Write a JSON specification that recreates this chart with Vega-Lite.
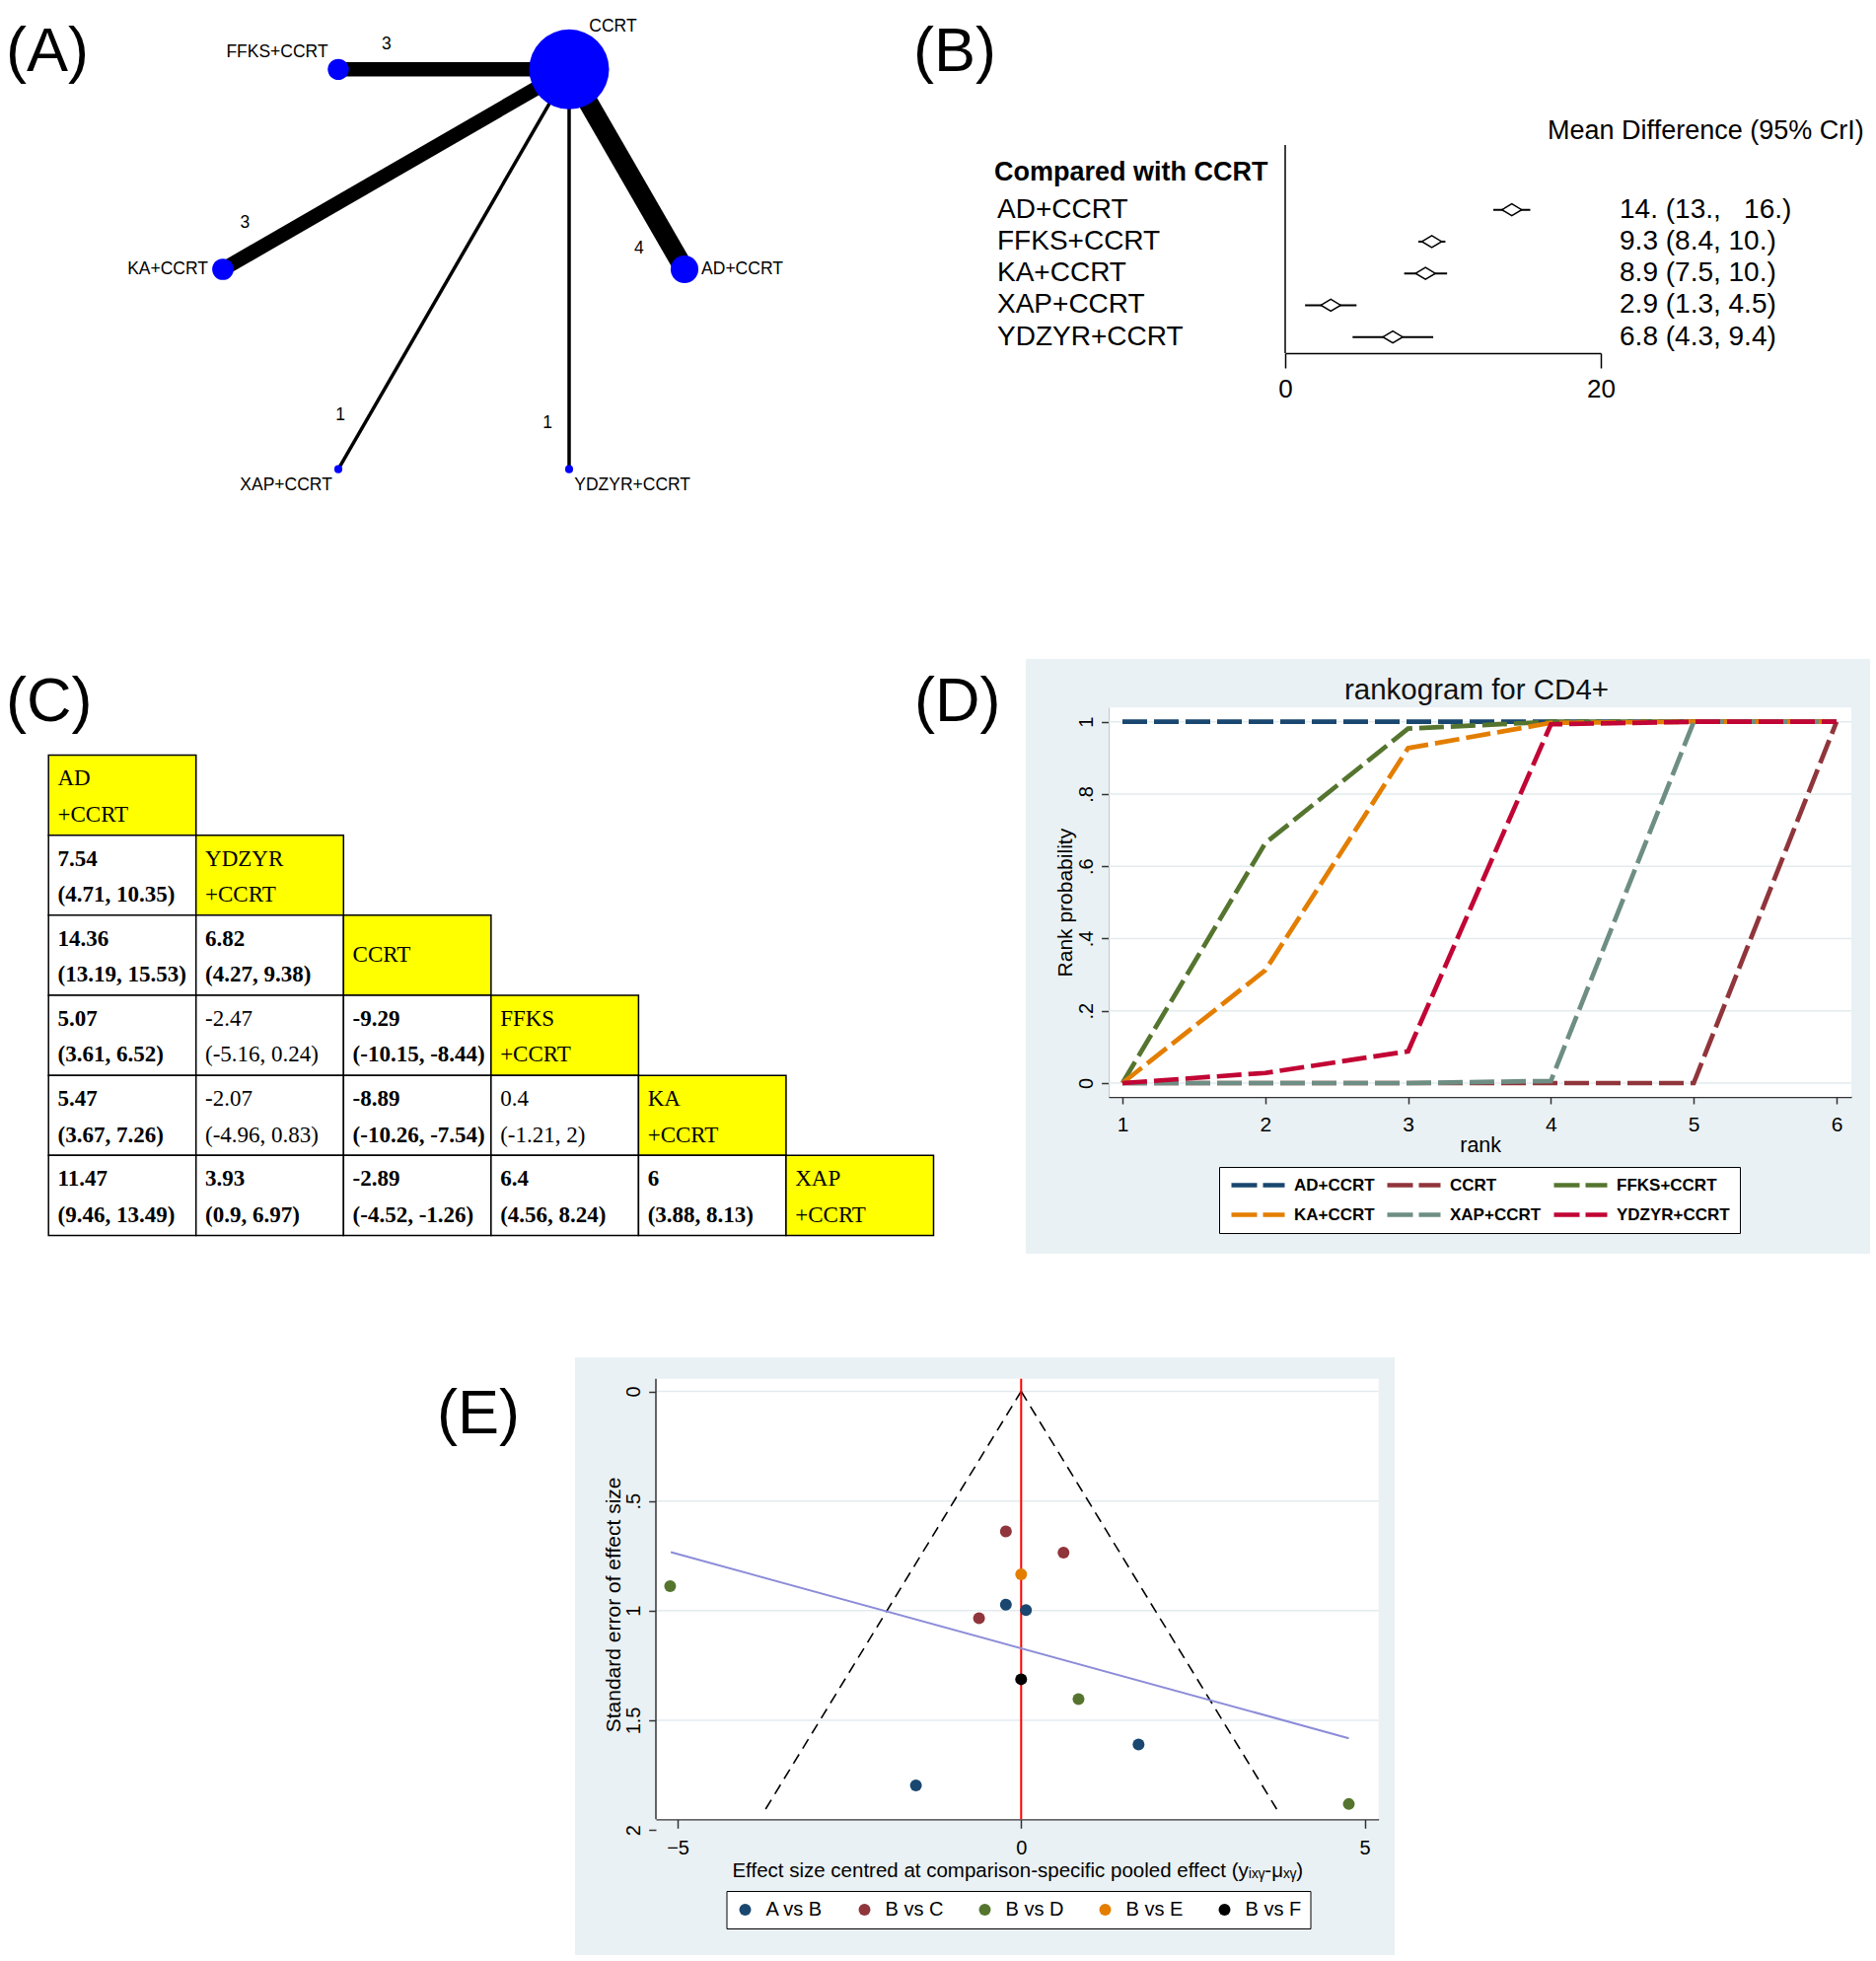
{
"$schema": "https://vega.github.io/schema/vega-lite/v6.json",
"padding": 0,
"background": "#ffffff",
"spacing": 0,
"resolve": {"scale": {"color": "independent", "size": "independent", "fill": "independent"}, "legend": {"color": "independent", "size": "independent", "fill": "independent"}},
"config": {
  "font": "Liberation Sans",
  "view": {"stroke": null},
  "axis": {"labelColor": "#000000", "titleColor": "#000000", "titleFontWeight": "normal", "labelFlush": false, "grid": false, "zindex": 1, "domainColor": "#333333", "tickColor": "#333333", "domainWidth": 1.5, "tickWidth": 1.5},
  "title": {"fontWeight": "normal", "color": "#000000"},
  "legend": {"labelColor": "#000000"}
},
"datasets": {
  "nodes": [
    {"name": "CCRT", "x": 0.5, "y": 0.866, "weight": 1000, "lx": 0.69, "ly": 1.05},
    {"name": "FFKS+CCRT", "x": -0.5, "y": 0.866, "weight": 70, "lx": -0.765, "ly": 0.94},
    {"name": "KA+CCRT", "x": -1, "y": 0, "weight": 72, "lx": -1.239, "ly": 0.0},
    {"name": "AD+CCRT", "x": 1, "y": 0, "weight": 120, "lx": 1.25, "ly": 0.0},
    {"name": "XAP+CCRT", "x": -0.5, "y": -0.866, "weight": 10, "lx": -0.726, "ly": -0.935},
    {"name": "YDZYR+CCRT", "x": 0.5, "y": -0.866, "weight": 10, "lx": 0.774, "ly": -0.935}
  ],
  "edges": [
    {"source": "CCRT", "target": "FFKS+CCRT", "studies": 3, "ex": -0.291, "ey": 0.974},
    {"source": "CCRT", "target": "KA+CCRT", "studies": 3, "ex": -0.904, "ey": 0.202},
    {"source": "CCRT", "target": "AD+CCRT", "studies": 4, "ex": 0.803, "ey": 0.09},
    {"source": "CCRT", "target": "XAP+CCRT", "studies": 1, "ex": -0.491, "ey": -0.632},
    {"source": "CCRT", "target": "YDZYR+CCRT", "studies": 1, "ex": 0.406, "ey": -0.665}
  ],
  "forest": [
    {"order": 1, "comparison": "AD+CCRT", "est": 14.36, "lo": 13.19, "hi": 15.53, "md_text": "14. (13.,\u00a0\u00a0 16.)"},
    {"order": 2, "comparison": "FFKS+CCRT", "est": 9.29, "lo": 8.44, "hi": 10.15, "md_text": "9.3 (8.4, 10.)"},
    {"order": 3, "comparison": "KA+CCRT", "est": 8.89, "lo": 7.54, "hi": 10.26, "md_text": "8.9 (7.5, 10.)"},
    {"order": 4, "comparison": "XAP+CCRT", "est": 2.89, "lo": 1.26, "hi": 4.52, "md_text": "2.9 (1.3, 4.5)"},
    {"order": 5, "comparison": "YDZYR+CCRT", "est": 6.82, "lo": 4.27, "hi": 9.38, "md_text": "6.8 (4.3, 9.4)"}
  ],
  "league": [
    {"row": "AD+CCRT", "col": "AD+CCRT", "kind": "diagonal", "significant": false, "top": "AD", "bot": "+CCRT"},
    {"row": "YDZYR+CCRT", "col": "AD+CCRT", "kind": "comparison", "significant": true, "top": "7.54", "bot": "(4.71, 10.35)"},
    {"row": "YDZYR+CCRT", "col": "YDZYR+CCRT", "kind": "diagonal", "significant": false, "top": "YDZYR", "bot": "+CCRT"},
    {"row": "CCRT", "col": "AD+CCRT", "kind": "comparison", "significant": true, "top": "14.36", "bot": "(13.19, 15.53)"},
    {"row": "CCRT", "col": "YDZYR+CCRT", "kind": "comparison", "significant": true, "top": "6.82", "bot": "(4.27, 9.38)"},
    {"row": "CCRT", "col": "CCRT", "kind": "diagonal", "significant": false, "mid": "CCRT"},
    {"row": "FFKS+CCRT", "col": "AD+CCRT", "kind": "comparison", "significant": true, "top": "5.07", "bot": "(3.61, 6.52)"},
    {"row": "FFKS+CCRT", "col": "YDZYR+CCRT", "kind": "comparison", "significant": false, "top": "-2.47", "bot": "(-5.16, 0.24)"},
    {"row": "FFKS+CCRT", "col": "CCRT", "kind": "comparison", "significant": true, "top": "-9.29", "bot": "(-10.15, -8.44)"},
    {"row": "FFKS+CCRT", "col": "FFKS+CCRT", "kind": "diagonal", "significant": false, "top": "FFKS", "bot": "+CCRT"},
    {"row": "KA+CCRT", "col": "AD+CCRT", "kind": "comparison", "significant": true, "top": "5.47", "bot": "(3.67, 7.26)"},
    {"row": "KA+CCRT", "col": "YDZYR+CCRT", "kind": "comparison", "significant": false, "top": "-2.07", "bot": "(-4.96, 0.83)"},
    {"row": "KA+CCRT", "col": "CCRT", "kind": "comparison", "significant": true, "top": "-8.89", "bot": "(-10.26, -7.54)"},
    {"row": "KA+CCRT", "col": "FFKS+CCRT", "kind": "comparison", "significant": false, "top": "0.4", "bot": "(-1.21, 2)"},
    {"row": "KA+CCRT", "col": "KA+CCRT", "kind": "diagonal", "significant": false, "top": "KA", "bot": "+CCRT"},
    {"row": "XAP+CCRT", "col": "AD+CCRT", "kind": "comparison", "significant": true, "top": "11.47", "bot": "(9.46, 13.49)"},
    {"row": "XAP+CCRT", "col": "YDZYR+CCRT", "kind": "comparison", "significant": true, "top": "3.93", "bot": "(0.9, 6.97)"},
    {"row": "XAP+CCRT", "col": "CCRT", "kind": "comparison", "significant": true, "top": "-2.89", "bot": "(-4.52, -1.26)"},
    {"row": "XAP+CCRT", "col": "FFKS+CCRT", "kind": "comparison", "significant": true, "top": "6.4", "bot": "(4.56, 8.24)"},
    {"row": "XAP+CCRT", "col": "KA+CCRT", "kind": "comparison", "significant": true, "top": "6", "bot": "(3.88, 8.13)"},
    {"row": "XAP+CCRT", "col": "XAP+CCRT", "kind": "diagonal", "significant": false, "top": "XAP", "bot": "+CCRT"}
  ],
  "rankogram": [
    {"treatment": "AD+CCRT", "rank": 1, "prob": 1}, {"treatment": "AD+CCRT", "rank": 2, "prob": 1}, {"treatment": "AD+CCRT", "rank": 3, "prob": 1},
    {"treatment": "AD+CCRT", "rank": 4, "prob": 1}, {"treatment": "AD+CCRT", "rank": 5, "prob": 1}, {"treatment": "AD+CCRT", "rank": 6, "prob": 1},
    {"treatment": "CCRT", "rank": 1, "prob": 0}, {"treatment": "CCRT", "rank": 2, "prob": 0}, {"treatment": "CCRT", "rank": 3, "prob": 0},
    {"treatment": "CCRT", "rank": 4, "prob": 0}, {"treatment": "CCRT", "rank": 5, "prob": 0}, {"treatment": "CCRT", "rank": 6, "prob": 1},
    {"treatment": "FFKS+CCRT", "rank": 1, "prob": 0}, {"treatment": "FFKS+CCRT", "rank": 2, "prob": 0.664}, {"treatment": "FFKS+CCRT", "rank": 3, "prob": 0.981},
    {"treatment": "FFKS+CCRT", "rank": 4, "prob": 1}, {"treatment": "FFKS+CCRT", "rank": 5, "prob": 1}, {"treatment": "FFKS+CCRT", "rank": 6, "prob": 1},
    {"treatment": "KA+CCRT", "rank": 1, "prob": 0}, {"treatment": "KA+CCRT", "rank": 2, "prob": 0.312}, {"treatment": "KA+CCRT", "rank": 3, "prob": 0.927},
    {"treatment": "KA+CCRT", "rank": 4, "prob": 0.997}, {"treatment": "KA+CCRT", "rank": 5, "prob": 1}, {"treatment": "KA+CCRT", "rank": 6, "prob": 1},
    {"treatment": "XAP+CCRT", "rank": 1, "prob": 0}, {"treatment": "XAP+CCRT", "rank": 2, "prob": 0}, {"treatment": "XAP+CCRT", "rank": 3, "prob": 0},
    {"treatment": "XAP+CCRT", "rank": 4, "prob": 0.006}, {"treatment": "XAP+CCRT", "rank": 5, "prob": 1}, {"treatment": "XAP+CCRT", "rank": 6, "prob": 1},
    {"treatment": "YDZYR+CCRT", "rank": 1, "prob": 0}, {"treatment": "YDZYR+CCRT", "rank": 2, "prob": 0.028}, {"treatment": "YDZYR+CCRT", "rank": 3, "prob": 0.088},
    {"treatment": "YDZYR+CCRT", "rank": 4, "prob": 0.993}, {"treatment": "YDZYR+CCRT", "rank": 5, "prob": 1}, {"treatment": "YDZYR+CCRT", "rank": 6, "prob": 1}
  ],
  "funnel_points": [
    {"comparison": "B vs D", "effect": -5.11, "se": 0.888},
    {"comparison": "B vs C", "effect": -0.222, "se": 0.639},
    {"comparison": "B vs C", "effect": 0.617, "se": 0.736},
    {"comparison": "B vs E", "effect": 0.0, "se": 0.834},
    {"comparison": "A vs B", "effect": -0.222, "se": 0.973},
    {"comparison": "A vs B", "effect": 0.07, "se": 0.998},
    {"comparison": "B vs C", "effect": -0.613, "se": 1.035},
    {"comparison": "B vs F", "effect": 0.0, "se": 1.313},
    {"comparison": "B vs D", "effect": 0.835, "se": 1.403},
    {"comparison": "A vs B", "effect": 1.709, "se": 1.61},
    {"comparison": "A vs B", "effect": -1.532, "se": 1.797},
    {"comparison": "B vs D", "effect": 4.77, "se": 1.882}
  ],
  "funnel_lines": [
    {"side": "lower", "effect": 0, "se": 0}, {"side": "lower", "effect": -3.72, "se": 1.905},
    {"side": "upper", "effect": 0, "se": 0}, {"side": "upper", "effect": 3.72, "se": 1.905}
  ],
  "fit_line": [
    {"effect": -5.1, "se": 0.733}, {"effect": 4.77, "se": 1.582}
  ]
},
"vconcat": [
 {
  "spacing": 0, "bounds": "flush",
  "resolve": {"scale": {"color": "independent", "size": "independent", "fill": "independent"}, "legend": {"color": "independent", "size": "independent", "fill": "independent"}},
  "hconcat": [
   {
    "width": 900, "height": 668,
    "title": {"text": "(A)", "anchor": "start", "frame": "group", "fontSize": 63, "baseline": "alphabetic", "offset": 0, "dy": 135, "dx": 6},
    "resolve": {"scale": {"size": "independent"}},
    "layer": [
     {
      "data": {"name": "edges"},
      "transform": [
        {"lookup": "source", "from": {"data": {"name": "nodes"}, "key": "name", "fields": ["x", "y"]}, "as": ["sx", "sy"]},
        {"lookup": "target", "from": {"data": {"name": "nodes"}, "key": "name", "fields": ["x", "y"]}, "as": ["tx", "ty"]}
      ],
      "mark": {"type": "rule", "color": "#000000", "strokeCap": "butt"},
      "encoding": {
        "x": {"field": "sx", "type": "quantitative", "scale": {"domain": [-1, 1], "range": [226, 694], "nice": false, "zero": false}, "axis": null},
        "y": {"field": "sy", "type": "quantitative", "scale": {"domain": [-1, 1], "range": [507, 39], "nice": false, "zero": false}, "axis": null},
        "x2": {"field": "tx"},
        "y2": {"field": "ty"},
        "size": {"field": "studies", "type": "quantitative", "scale": {"domain": [1, 4], "range": [3.5, 20]}, "legend": null}
      }
     },
     {
      "data": {"name": "nodes"},
      "mark": {"type": "point", "shape": "circle", "filled": true, "color": "#0000ff", "opacity": 1},
      "encoding": {
        "x": {"field": "x", "type": "quantitative", "scale": {"domain": [-1, 1], "range": [226, 694], "nice": false, "zero": false}, "axis": null},
        "y": {"field": "y", "type": "quantitative", "scale": {"domain": [-1, 1], "range": [507, 39], "nice": false, "zero": false}, "axis": null},
        "size": {"field": "weight", "type": "quantitative", "scale": {"type": "linear", "domain": [0, 1000], "range": [0, 6561]}, "legend": null}
      }
     },
     {
      "data": {"name": "nodes"},
      "mark": {"type": "text", "fontSize": 17.5, "align": "center", "baseline": "middle", "color": "#000000"},
      "encoding": {
        "x": {"field": "lx", "type": "quantitative", "scale": {"domain": [-1, 1], "range": [226, 694], "nice": false, "zero": false}, "axis": null},
        "y": {"field": "ly", "type": "quantitative", "scale": {"domain": [-1, 1], "range": [507, 39], "nice": false, "zero": false}, "axis": null},
        "text": {"field": "name"}
      }
     },
     {
      "data": {"name": "edges"},
      "mark": {"type": "text", "fontSize": 17.5, "align": "center", "baseline": "middle", "color": "#000000"},
      "encoding": {
        "x": {"field": "ex", "type": "quantitative", "scale": {"domain": [-1, 1], "range": [226, 694], "nice": false, "zero": false}, "axis": null},
        "y": {"field": "ey", "type": "quantitative", "scale": {"domain": [-1, 1], "range": [507, 39], "nice": false, "zero": false}, "axis": null},
        "text": {"field": "studies", "type": "quantitative"}
      }
     }
    ]
   },
   {
    "width": 1002, "height": 668,
    "title": {"text": "(B)", "anchor": "start", "frame": "group", "fontSize": 63, "baseline": "alphabetic", "offset": 0, "dy": 135, "dx": 26},
    "data": {"name": "forest"},
    "layer": [
     {
      "data": {"values": [{}]},
      "mark": {"type": "rule", "color": "#000000", "strokeWidth": 1.5},
      "encoding": {
        "x": {"datum": 0, "type": "quantitative", "scale": {"domain": [0, 20], "range": [403, 723], "nice": false, "zero": false},
              "axis": {"orient": "bottom", "offset": -310, "values": [0, 20], "tickSize": 15, "labelPadding": 8, "labelFontSize": 26, "title": null, "domainColor": "#000000", "tickColor": "#000000", "labelFlush": false}},
        "y": {"datum": -1.037, "type": "quantitative", "scale": {"domain": [1, 5], "range": [212.7, 341.7], "nice": false, "zero": false}, "axis": null},
        "y2": {"datum": 5.505}
      }
     },
     {
      "mark": {"type": "rule", "color": "#000000", "strokeWidth": 2},
      "encoding": {
        "x": {"field": "lo", "type": "quantitative", "scale": {"domain": [0, 20], "range": [403, 723], "nice": false, "zero": false},
              "axis": {"orient": "bottom", "offset": -310, "values": [0, 20], "tickSize": 15, "labelPadding": 8, "labelFontSize": 26, "title": null, "domainColor": "#000000", "tickColor": "#000000", "labelFlush": false}},
        "x2": {"field": "hi"},
        "y": {"field": "order", "type": "quantitative", "scale": {"domain": [1, 5], "range": [212.7, 341.7], "nice": false, "zero": false}, "axis": null}
      }
     },
     {
      "mark": {"type": "point", "shape": "M-1,0L0,-0.6L1,0L0,0.6Z", "size": 400, "filled": true, "fill": "#ffffff", "stroke": "#000000", "strokeWidth": 1.5, "opacity": 1},
      "encoding": {
        "x": {"field": "est", "type": "quantitative", "scale": {"domain": [0, 20], "range": [403, 723], "nice": false, "zero": false},
              "axis": {"orient": "bottom", "offset": -310, "values": [0, 20], "tickSize": 15, "labelPadding": 8, "labelFontSize": 26, "title": null, "domainColor": "#000000", "tickColor": "#000000", "labelFlush": false}},
        "y": {"field": "order", "type": "quantitative", "scale": {"domain": [1, 5], "range": [212.7, 341.7], "nice": false, "zero": false}, "axis": null}
      }
     },
     {
      "mark": {"type": "text", "align": "left", "baseline": "middle", "fontSize": 28, "color": "#000000"},
      "encoding": {
        "x": {"datum": -18.25, "type": "quantitative", "scale": {"domain": [0, 20], "range": [403, 723], "nice": false, "zero": false},
              "axis": {"orient": "bottom", "offset": -310, "values": [0, 20], "tickSize": 15, "labelPadding": 8, "labelFontSize": 26, "title": null, "domainColor": "#000000", "tickColor": "#000000", "labelFlush": false}},
        "y": {"field": "order", "type": "quantitative", "scale": {"domain": [1, 5], "range": [212.7, 341.7], "nice": false, "zero": false}, "axis": null},
        "text": {"field": "comparison"}
      }
     },
     {
      "mark": {"type": "text", "align": "left", "baseline": "middle", "fontSize": 28, "color": "#000000"},
      "encoding": {
        "x": {"datum": 21.19, "type": "quantitative", "scale": {"domain": [0, 20], "range": [403, 723], "nice": false, "zero": false},
              "axis": {"orient": "bottom", "offset": -310, "values": [0, 20], "tickSize": 15, "labelPadding": 8, "labelFontSize": 26, "title": null, "domainColor": "#000000", "tickColor": "#000000", "labelFlush": false}},
        "y": {"field": "order", "type": "quantitative", "scale": {"domain": [1, 5], "range": [212.7, 341.7], "nice": false, "zero": false}, "axis": null},
        "text": {"field": "md_text"}
      }
     },
     {
      "data": {"values": [{"t": "Compared with CCRT"}]},
      "mark": {"type": "text", "align": "left", "baseline": "middle", "fontSize": 27, "fontWeight": "bold", "color": "#000000"},
      "encoding": {
        "x": {"datum": -18.44, "type": "quantitative", "scale": {"domain": [0, 20], "range": [403, 723], "nice": false, "zero": false},
              "axis": {"orient": "bottom", "offset": -310, "values": [0, 20], "tickSize": 15, "labelPadding": 8, "labelFontSize": 26, "title": null, "domainColor": "#000000", "tickColor": "#000000", "labelFlush": false}},
        "y": {"datum": -0.169, "type": "quantitative", "scale": {"domain": [1, 5], "range": [212.7, 341.7], "nice": false, "zero": false}, "axis": null},
        "text": {"field": "t"}
      }
     },
     {
      "data": {"values": [{"t": "Mean Difference (95% CrI)"}]},
      "mark": {"type": "text", "align": "left", "baseline": "middle", "fontSize": 27, "color": "#000000"},
      "encoding": {
        "x": {"datum": 16.63, "type": "quantitative", "scale": {"domain": [0, 20], "range": [403, 723], "nice": false, "zero": false},
              "axis": {"orient": "bottom", "offset": -310, "values": [0, 20], "tickSize": 15, "labelPadding": 8, "labelFontSize": 26, "title": null, "domainColor": "#000000", "tickColor": "#000000", "labelFlush": false}},
        "y": {"datum": -1.471, "type": "quantitative", "scale": {"domain": [1, 5], "range": [212.7, 341.7], "nice": false, "zero": false}, "axis": null},
        "text": {"field": "t"}
      }
     }
    ]
   }
  ]
 },
 {
  "spacing": 0, "bounds": "flush",
  "resolve": {"scale": {"color": "independent", "size": "independent", "fill": "independent"}, "legend": {"color": "independent", "size": "independent", "fill": "independent"}},
  "hconcat": [
   {
    "width": 925, "height": 708,
    "title": {"text": "(C)", "anchor": "start", "frame": "group", "fontSize": 63, "baseline": "alphabetic", "offset": 0, "dy": 126, "dx": 6},
    "data": {"name": "league"},
    "layer": [
     {
      "mark": {"type": "rect", "stroke": "#000000", "strokeWidth": 1.5},
      "encoding": {
        "x": {"field": "col", "type": "ordinal", "scale": {"type": "band", "domain": ["AD+CCRT", "YDZYR+CCRT", "CCRT", "FFKS+CCRT", "KA+CCRT", "XAP+CCRT"], "range": [49.2, 946.5], "paddingInner": 0, "paddingOuter": 0}, "axis": null},
        "y": {"field": "row", "type": "ordinal", "scale": {"type": "band", "domain": ["AD+CCRT", "YDZYR+CCRT", "CCRT", "FFKS+CCRT", "KA+CCRT", "XAP+CCRT"], "range": [97.5, 584.5], "paddingInner": 0, "paddingOuter": 0}, "axis": null},
        "fill": {"field": "kind", "type": "nominal", "scale": {"domain": ["diagonal", "comparison"], "range": ["#ffff00", "#ffffff"]}, "legend": null}
      }
     },
     {
      "transform": [{"filter": "datum.significant && isValid(datum.top)"}],
      "mark": {"type": "text", "align": "left", "baseline": "middle", "dx": 9.3, "font": "Liberation Serif", "fontSize": 23, "fontWeight": "bold", "color": "#000000"},
      "encoding": {
        "x": {"field": "col", "type": "ordinal", "bandPosition": 0, "scale": {"type": "band", "domain": ["AD+CCRT", "YDZYR+CCRT", "CCRT", "FFKS+CCRT", "KA+CCRT", "XAP+CCRT"], "range": [49.2, 946.5], "paddingInner": 0, "paddingOuter": 0}, "axis": null},
        "y": {"field": "row", "type": "ordinal", "bandPosition": 0.294, "scale": {"type": "band", "domain": ["AD+CCRT", "YDZYR+CCRT", "CCRT", "FFKS+CCRT", "KA+CCRT", "XAP+CCRT"], "range": [97.5, 584.5], "paddingInner": 0, "paddingOuter": 0}, "axis": null},
        "text": {"field": "top"}
      }
     },
     {
      "transform": [{"filter": "datum.significant && isValid(datum.bot)"}],
      "mark": {"type": "text", "align": "left", "baseline": "middle", "dx": 9.3, "font": "Liberation Serif", "fontSize": 23, "fontWeight": "bold", "color": "#000000"},
      "encoding": {
        "x": {"field": "col", "type": "ordinal", "bandPosition": 0, "scale": {"type": "band", "domain": ["AD+CCRT", "YDZYR+CCRT", "CCRT", "FFKS+CCRT", "KA+CCRT", "XAP+CCRT"], "range": [49.2, 946.5], "paddingInner": 0, "paddingOuter": 0}, "axis": null},
        "y": {"field": "row", "type": "ordinal", "bandPosition": 0.744, "scale": {"type": "band", "domain": ["AD+CCRT", "YDZYR+CCRT", "CCRT", "FFKS+CCRT", "KA+CCRT", "XAP+CCRT"], "range": [97.5, 584.5], "paddingInner": 0, "paddingOuter": 0}, "axis": null},
        "text": {"field": "bot"}
      }
     },
     {
      "transform": [{"filter": "!datum.significant && isValid(datum.top)"}],
      "mark": {"type": "text", "align": "left", "baseline": "middle", "dx": 9.3, "font": "Liberation Serif", "fontSize": 23, "fontWeight": "normal", "color": "#000000"},
      "encoding": {
        "x": {"field": "col", "type": "ordinal", "bandPosition": 0, "scale": {"type": "band", "domain": ["AD+CCRT", "YDZYR+CCRT", "CCRT", "FFKS+CCRT", "KA+CCRT", "XAP+CCRT"], "range": [49.2, 946.5], "paddingInner": 0, "paddingOuter": 0}, "axis": null},
        "y": {"field": "row", "type": "ordinal", "bandPosition": 0.294, "scale": {"type": "band", "domain": ["AD+CCRT", "YDZYR+CCRT", "CCRT", "FFKS+CCRT", "KA+CCRT", "XAP+CCRT"], "range": [97.5, 584.5], "paddingInner": 0, "paddingOuter": 0}, "axis": null},
        "text": {"field": "top"}
      }
     },
     {
      "transform": [{"filter": "!datum.significant && isValid(datum.bot)"}],
      "mark": {"type": "text", "align": "left", "baseline": "middle", "dx": 9.3, "font": "Liberation Serif", "fontSize": 23, "fontWeight": "normal", "color": "#000000"},
      "encoding": {
        "x": {"field": "col", "type": "ordinal", "bandPosition": 0, "scale": {"type": "band", "domain": ["AD+CCRT", "YDZYR+CCRT", "CCRT", "FFKS+CCRT", "KA+CCRT", "XAP+CCRT"], "range": [49.2, 946.5], "paddingInner": 0, "paddingOuter": 0}, "axis": null},
        "y": {"field": "row", "type": "ordinal", "bandPosition": 0.744, "scale": {"type": "band", "domain": ["AD+CCRT", "YDZYR+CCRT", "CCRT", "FFKS+CCRT", "KA+CCRT", "XAP+CCRT"], "range": [97.5, 584.5], "paddingInner": 0, "paddingOuter": 0}, "axis": null},
        "text": {"field": "bot"}
      }
     },
     {
      "transform": [{"filter": "isValid(datum.mid)"}],
      "mark": {"type": "text", "align": "left", "baseline": "middle", "dx": 9.3, "font": "Liberation Serif", "fontSize": 23, "fontWeight": "normal", "color": "#000000"},
      "encoding": {
        "x": {"field": "col", "type": "ordinal", "bandPosition": 0, "scale": {"type": "band", "domain": ["AD+CCRT", "YDZYR+CCRT", "CCRT", "FFKS+CCRT", "KA+CCRT", "XAP+CCRT"], "range": [49.2, 946.5], "paddingInner": 0, "paddingOuter": 0}, "axis": null},
        "y": {"field": "row", "type": "ordinal", "bandPosition": 0.5, "scale": {"type": "band", "domain": ["AD+CCRT", "YDZYR+CCRT", "CCRT", "FFKS+CCRT", "KA+CCRT", "XAP+CCRT"], "range": [97.5, 584.5], "paddingInner": 0, "paddingOuter": 0}, "axis": null},
        "text": {"field": "mid"}
      }
     }
    ]
   },
   {
    "width": 115, "height": 603,
    "title": {"text": "(D)", "anchor": "start", "frame": "group", "fontSize": 63, "baseline": "alphabetic", "offset": 0, "dy": 126, "dx": 2},
    "data": {"values": []},
    "mark": {"type": "point", "opacity": 0}
   },
   {
    "width": 856, "height": 603,
    "view": {"fill": "#eaf1f4", "stroke": null},
    "title": {"text": "rankogram for CD4+", "anchor": "middle", "frame": "group", "fontSize": 29.5, "baseline": "alphabetic", "offset": 0, "dy": 70, "dx": 29, "color": "#111111"},
    "layer": [
     {
      "data": {"values": [{}]},
      "mark": {"type": "rect", "fill": "#ffffff"},
      "encoding": {
        "x": {"datum": 0.9054, "type": "quantitative", "scale": {"domain": [0.9054, 6.1036], "range": [84.3, 837], "nice": false, "zero": false},
              "axis": {"orient": "bottom", "offset": -159, "values": [1, 2, 3, 4, 5, 6], "tickSize": 7, "labelPadding": 10, "labelFontSize": 21, "title": "rank", "titleFontSize": 21.5, "titlePadding": 0, "labelFlush": false}},
        "x2": {"datum": 6.1036},
        "y": {"datum": -0.0382, "type": "quantitative", "scale": {"domain": [-0.0382, 1.0393], "range": [444, 49.3], "nice": false, "zero": false},
              "axis": {"orient": "left", "offset": -84.3, "values": [0, 0.2, 0.4, 0.6, 0.8, 1], "labelExpr": "datum.value == 0 ? '0' : datum.value == 1 ? '1' : '.' + round(datum.value * 10)", "labelAngle": -90, "labelAlign": "center", "labelBaseline": "alphabetic", "tickSize": 7.7, "labelPadding": 9.4, "labelFontSize": 20, "title": "Rank probability", "titleFontSize": 21, "titlePadding": 1}},
        "y2": {"datum": 1.0393}
      }
     },
     {
      "data": {"values": [{"gridline": 0}, {"gridline": 0.2}, {"gridline": 0.4}, {"gridline": 0.6}, {"gridline": 0.8}, {"gridline": 1}]},
      "mark": {"type": "rule", "color": "#e3ebee", "strokeWidth": 1.5},
      "encoding": {
        "x": {"datum": 0.9054, "type": "quantitative", "scale": {"domain": [0.9054, 6.1036], "range": [84.3, 837], "nice": false, "zero": false},
              "axis": {"orient": "bottom", "offset": -159, "values": [1, 2, 3, 4, 5, 6], "tickSize": 7, "labelPadding": 10, "labelFontSize": 21, "title": "rank", "titleFontSize": 21.5, "titlePadding": 0, "labelFlush": false}},
        "x2": {"datum": 6.1036},
        "y": {"field": "gridline", "type": "quantitative", "scale": {"domain": [-0.0382, 1.0393], "range": [444, 49.3], "nice": false, "zero": false},
              "axis": {"orient": "left", "offset": -84.3, "values": [0, 0.2, 0.4, 0.6, 0.8, 1], "labelExpr": "datum.value == 0 ? '0' : datum.value == 1 ? '1' : '.' + round(datum.value * 10)", "labelAngle": -90, "labelAlign": "center", "labelBaseline": "alphabetic", "tickSize": 7.7, "labelPadding": 9.4, "labelFontSize": 20, "title": "Rank probability", "titleFontSize": 21, "titlePadding": 1}}
      }
     },
     {
      "data": {"name": "rankogram"},
      "mark": {"type": "line", "strokeWidth": 4.7, "strokeDash": [25, 7], "strokeCap": "butt"},
      "encoding": {
        "x": {"field": "rank", "type": "quantitative", "scale": {"domain": [0.9054, 6.1036], "range": [84.3, 837], "nice": false, "zero": false},
              "axis": {"orient": "bottom", "offset": -159, "values": [1, 2, 3, 4, 5, 6], "tickSize": 7, "labelPadding": 10, "labelFontSize": 21, "title": "rank", "titleFontSize": 21.5, "titlePadding": 0, "labelFlush": false}},
        "y": {"field": "prob", "type": "quantitative", "scale": {"domain": [-0.0382, 1.0393], "range": [444, 49.3], "nice": false, "zero": false},
              "axis": {"orient": "left", "offset": -84.3, "values": [0, 0.2, 0.4, 0.6, 0.8, 1], "labelExpr": "datum.value == 0 ? '0' : datum.value == 1 ? '1' : '.' + round(datum.value * 10)", "labelAngle": -90, "labelAlign": "center", "labelBaseline": "alphabetic", "tickSize": 7.7, "labelPadding": 9.4, "labelFontSize": 20, "title": "Rank probability", "titleFontSize": 21, "titlePadding": 1}},
        "color": {"field": "treatment", "type": "nominal",
                  "scale": {"domain": ["AD+CCRT", "CCRT", "FFKS+CCRT", "KA+CCRT", "XAP+CCRT", "YDZYR+CCRT"], "range": ["#1a476f", "#90353b", "#55752f", "#e37e00", "#6e8e84", "#c10534"]},
                  "legend": {"orient": "none", "legendX": 196, "legendY": 515, "title": null, "columns": 3, "direction": "horizontal", "symbolType": "stroke", "symbolSize": 2916, "symbolStrokeWidth": 4.7, "symbolDash": [26, 6], "clipHeight": 17, "labelFontSize": 17, "labelFontWeight": "bold", "labelOffset": 7, "columnPadding": 10, "rowPadding": 12, "padding": 10, "strokeColor": "#000000", "fillColor": "#ffffff"}}
      }
     }
    ]
   }
  ]
 },
 {
  "spacing": 0, "bounds": "flush",
  "resolve": {"scale": {"color": "independent", "size": "independent", "fill": "independent"}, "legend": {"color": "independent", "size": "independent", "fill": "independent"}},
  "hconcat": [
   {
    "width": 583, "height": 606,
    "title": {"text": "(E)", "anchor": "start", "frame": "group", "fontSize": 63, "baseline": "alphabetic", "offset": 0, "dy": 140, "dx": 443},
    "data": {"values": []},
    "mark": {"type": "point", "opacity": 0}
   },
   {
    "width": 831, "height": 606,
    "view": {"fill": "#eaf1f4", "stroke": null},
    "layer": [
     {
      "data": {"values": [{}]},
      "mark": {"type": "rect", "fill": "#ffffff"},
      "encoding": {
        "x": {"datum": -5.317, "type": "quantitative", "scale": {"domain": [-5.317, 5.202], "range": [82, 814.6], "nice": false, "zero": false},
              "axis": {"orient": "bottom", "offset": -137.7, "values": [-5, 0, 5], "tickSize": 9, "labelPadding": 10.5, "labelFontSize": 20, "title": "Effect size centred at comparison-specific pooled effect (y\u1d62\u2093\u1d67-\u03bc\u2093\u1d67)", "titleFontSize": 20.5, "titlePadding": 3, "labelFlush": false}},
        "x2": {"datum": 5.202},
        "y": {"datum": -0.0576, "type": "quantitative", "scale": {"domain": [-0.0576, 2], "range": [21.7, 479.1], "nice": false, "zero": false},
              "axis": {"orient": "left", "offset": -82, "values": [0, 0.5, 1, 1.5, 2], "labelExpr": "datum.value == 0.5 ? '.5' : toString(datum.value)", "labelAngle": -90, "labelAlign": "center", "labelBaseline": "alphabetic", "domain": false, "tickSize": 7.3, "labelPadding": 8.8, "labelFontSize": 20, "title": "Standard error of effect size", "titleFontSize": 21, "titlePadding": 0}},
        "y2": {"datum": 1.9514}
      }
     },
     {
      "data": {"values": [{"gridline": 0}, {"gridline": 0.5}, {"gridline": 1}, {"gridline": 1.5}]},
      "mark": {"type": "rule", "color": "#e3ebee", "strokeWidth": 1.5},
      "encoding": {
        "x": {"datum": -5.317, "type": "quantitative", "scale": {"domain": [-5.317, 5.202], "range": [82, 814.6], "nice": false, "zero": false},
              "axis": {"orient": "bottom", "offset": -137.7, "values": [-5, 0, 5], "tickSize": 9, "labelPadding": 10.5, "labelFontSize": 20, "title": "Effect size centred at comparison-specific pooled effect (y\u1d62\u2093\u1d67-\u03bc\u2093\u1d67)", "titleFontSize": 20.5, "titlePadding": 3, "labelFlush": false}},
        "x2": {"datum": 5.202},
        "y": {"field": "gridline", "type": "quantitative", "scale": {"domain": [-0.0576, 2], "range": [21.7, 479.1], "nice": false, "zero": false},
              "axis": {"orient": "left", "offset": -82, "values": [0, 0.5, 1, 1.5, 2], "labelExpr": "datum.value == 0.5 ? '.5' : toString(datum.value)", "labelAngle": -90, "labelAlign": "center", "labelBaseline": "alphabetic", "domain": false, "tickSize": 7.3, "labelPadding": 8.8, "labelFontSize": 20, "title": "Standard error of effect size", "titleFontSize": 21, "titlePadding": 0}}
      }
     },
     {
      "data": {"values": [{}]},
      "mark": {"type": "rule", "color": "#333333", "strokeWidth": 1.5},
      "encoding": {
        "x": {"datum": -5.317, "type": "quantitative", "scale": {"domain": [-5.317, 5.202], "range": [82, 814.6], "nice": false, "zero": false},
              "axis": {"orient": "bottom", "offset": -137.7, "values": [-5, 0, 5], "tickSize": 9, "labelPadding": 10.5, "labelFontSize": 20, "title": "Effect size centred at comparison-specific pooled effect (y\u1d62\u2093\u1d67-\u03bc\u2093\u1d67)", "titleFontSize": 20.5, "titlePadding": 3, "labelFlush": false}},
        "y": {"datum": -0.0576, "type": "quantitative", "scale": {"domain": [-0.0576, 2], "range": [21.7, 479.1], "nice": false, "zero": false},
              "axis": {"orient": "left", "offset": -82, "values": [0, 0.5, 1, 1.5, 2], "labelExpr": "datum.value == 0.5 ? '.5' : toString(datum.value)", "labelAngle": -90, "labelAlign": "center", "labelBaseline": "alphabetic", "domain": false, "tickSize": 7.3, "labelPadding": 8.8, "labelFontSize": 20, "title": "Standard error of effect size", "titleFontSize": 21, "titlePadding": 0}},
        "y2": {"datum": 1.9514}
      }
     },
     {
      "data": {"name": "funnel_lines"},
      "mark": {"type": "line", "color": "#000000", "strokeWidth": 1.6, "strokeDash": [11, 7]},
      "encoding": {
        "x": {"field": "effect", "type": "quantitative", "scale": {"domain": [-5.317, 5.202], "range": [82, 814.6], "nice": false, "zero": false},
              "axis": {"orient": "bottom", "offset": -137.7, "values": [-5, 0, 5], "tickSize": 9, "labelPadding": 10.5, "labelFontSize": 20, "title": "Effect size centred at comparison-specific pooled effect (y\u1d62\u2093\u1d67-\u03bc\u2093\u1d67)", "titleFontSize": 20.5, "titlePadding": 3, "labelFlush": false}},
        "y": {"field": "se", "type": "quantitative", "scale": {"domain": [-0.0576, 2], "range": [21.7, 479.1], "nice": false, "zero": false},
              "axis": {"orient": "left", "offset": -82, "values": [0, 0.5, 1, 1.5, 2], "labelExpr": "datum.value == 0.5 ? '.5' : toString(datum.value)", "labelAngle": -90, "labelAlign": "center", "labelBaseline": "alphabetic", "domain": false, "tickSize": 7.3, "labelPadding": 8.8, "labelFontSize": 20, "title": "Standard error of effect size", "titleFontSize": 21, "titlePadding": 0}},
        "detail": {"field": "side"}
      }
     },
     {
      "data": {"values": [{}]},
      "mark": {"type": "rule", "color": "#ff0000", "strokeWidth": 2},
      "encoding": {
        "x": {"datum": 0, "type": "quantitative", "scale": {"domain": [-5.317, 5.202], "range": [82, 814.6], "nice": false, "zero": false},
              "axis": {"orient": "bottom", "offset": -137.7, "values": [-5, 0, 5], "tickSize": 9, "labelPadding": 10.5, "labelFontSize": 20, "title": "Effect size centred at comparison-specific pooled effect (y\u1d62\u2093\u1d67-\u03bc\u2093\u1d67)", "titleFontSize": 20.5, "titlePadding": 3, "labelFlush": false}},
        "y": {"datum": -0.0576, "type": "quantitative", "scale": {"domain": [-0.0576, 2], "range": [21.7, 479.1], "nice": false, "zero": false},
              "axis": {"orient": "left", "offset": -82, "values": [0, 0.5, 1, 1.5, 2], "labelExpr": "datum.value == 0.5 ? '.5' : toString(datum.value)", "labelAngle": -90, "labelAlign": "center", "labelBaseline": "alphabetic", "domain": false, "tickSize": 7.3, "labelPadding": 8.8, "labelFontSize": 20, "title": "Standard error of effect size", "titleFontSize": 21, "titlePadding": 0}},
        "y2": {"datum": 1.9514}
      }
     },
     {
      "data": {"name": "fit_line"},
      "mark": {"type": "line", "color": "#8c8cd9", "strokeWidth": 2},
      "encoding": {
        "x": {"field": "effect", "type": "quantitative", "scale": {"domain": [-5.317, 5.202], "range": [82, 814.6], "nice": false, "zero": false},
              "axis": {"orient": "bottom", "offset": -137.7, "values": [-5, 0, 5], "tickSize": 9, "labelPadding": 10.5, "labelFontSize": 20, "title": "Effect size centred at comparison-specific pooled effect (y\u1d62\u2093\u1d67-\u03bc\u2093\u1d67)", "titleFontSize": 20.5, "titlePadding": 3, "labelFlush": false}},
        "y": {"field": "se", "type": "quantitative", "scale": {"domain": [-0.0576, 2], "range": [21.7, 479.1], "nice": false, "zero": false},
              "axis": {"orient": "left", "offset": -82, "values": [0, 0.5, 1, 1.5, 2], "labelExpr": "datum.value == 0.5 ? '.5' : toString(datum.value)", "labelAngle": -90, "labelAlign": "center", "labelBaseline": "alphabetic", "domain": false, "tickSize": 7.3, "labelPadding": 8.8, "labelFontSize": 20, "title": "Standard error of effect size", "titleFontSize": 21, "titlePadding": 0}}
      }
     },
     {
      "data": {"name": "funnel_points"},
      "mark": {"type": "point", "shape": "circle", "filled": true, "size": 144, "opacity": 1},
      "encoding": {
        "x": {"field": "effect", "type": "quantitative", "scale": {"domain": [-5.317, 5.202], "range": [82, 814.6], "nice": false, "zero": false},
              "axis": {"orient": "bottom", "offset": -137.7, "values": [-5, 0, 5], "tickSize": 9, "labelPadding": 10.5, "labelFontSize": 20, "title": "Effect size centred at comparison-specific pooled effect (y\u1d62\u2093\u1d67-\u03bc\u2093\u1d67)", "titleFontSize": 20.5, "titlePadding": 3, "labelFlush": false}},
        "y": {"field": "se", "type": "quantitative", "scale": {"domain": [-0.0576, 2], "range": [21.7, 479.1], "nice": false, "zero": false},
              "axis": {"orient": "left", "offset": -82, "values": [0, 0.5, 1, 1.5, 2], "labelExpr": "datum.value == 0.5 ? '.5' : toString(datum.value)", "labelAngle": -90, "labelAlign": "center", "labelBaseline": "alphabetic", "domain": false, "tickSize": 7.3, "labelPadding": 8.8, "labelFontSize": 20, "title": "Standard error of effect size", "titleFontSize": 21, "titlePadding": 0}},
        "color": {"field": "comparison", "type": "nominal",
                  "scale": {"domain": ["A vs B", "B vs C", "B vs D", "B vs E", "B vs F"], "range": ["#1a476f", "#90353b", "#55752f", "#e37e00", "#000000"]},
                  "legend": {"orient": "none", "legendX": 153.5, "legendY": 541, "title": null, "direction": "horizontal", "symbolType": "circle", "symbolSize": 144, "labelFontSize": 20, "labelOffset": 11, "columnPadding": 32, "padding": 9, "strokeColor": "#000000", "fillColor": "#ffffff"}}
      }
     }
    ]
   }
  ]
 }
]
}
